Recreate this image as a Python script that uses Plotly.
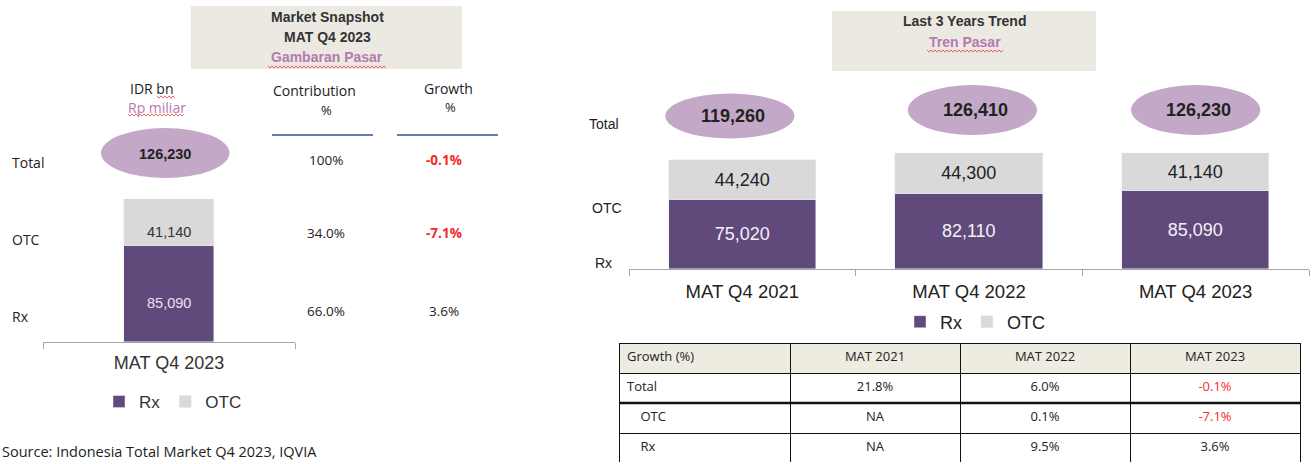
import plotly.graph_objects as go

W, H = 1312, 464


def X(px):
    return px / W


def Y(py):
    return 1 - py / H


# ---------------- data ----------------
cat_left = ["MAT Q4 2023"]
rx_left = [85090]
otc_left = [41140]
snap_rows = ["Total", "OTC", "Rx"]
snap_contribution = ["100%", "34.0%", "66.0%"]
snap_growth = ["-0.1%", "-7.1%", "3.6%"]

cat_right = ["MAT Q4 2021", "MAT Q4 2022", "MAT Q4 2023"]
rx_right = [75020, 82110, 85090]
otc_right = [44240, 44300, 41140]

table_header = ["Growth (%)", "MAT 2021", "MAT 2022", "MAT 2023"]
table_rows = ["Total", "OTC", "Rx"]
growth_2021 = ["21.8%", "NA", "NA"]
growth_2022 = ["6.0%", "0.1%", "9.5%"]
growth_2023 = ["-0.1%", "-7.1%", "3.6%"]

# ---------------- style ----------------
PURPLE = "#604A7B"
GREY = "#D9D9D9"
BUBBLE = "#C4A8C8"
BOX = "#ECE9E2"
PINK = "#B47AAE"
RED = "#F42A2A"
TXT = "#222222"
AX = "#A6A6A6"
SANS = "Liberation Sans, Arial, sans-serif"
OPEN = "Open Sans, DejaVu Sans, sans-serif"

tot_left = [a + b for a, b in zip(rx_left, otc_left)]
tot_right = [a + b for a, b in zip(rx_right, otc_right)]
ymax = max(tot_left + tot_right)

fig = go.Figure()

# left stacked bar
fig.add_trace(go.Bar(x=cat_left, y=rx_left, name="Rx", marker_color=PURPLE, width=0.357,
                     xaxis="x", yaxis="y", legend="legend", hoverinfo="skip"))
fig.add_trace(go.Bar(x=cat_left, y=otc_left, name="OTC", marker_color=GREY, width=0.357,
                     xaxis="x", yaxis="y", legend="legend", hoverinfo="skip"))

# right stacked bars
fig.add_trace(go.Bar(x=cat_right, y=rx_right, name="Rx", marker_color=PURPLE, width=0.65,
                     xaxis="x2", yaxis="y2", legend="legend2",
                     text=[f"{v:,}" for v in rx_right], textposition="inside",
                     insidetextanchor="middle", textangle=0,
                     textfont=dict(family=SANS, size=18, color="#F4F0F8"), hoverinfo="skip"))
fig.add_trace(go.Bar(x=cat_right, y=otc_right, name="OTC", marker_color=GREY, width=0.65,
                     xaxis="x2", yaxis="y2", legend="legend2",
                     text=[f"{v:,}" for v in otc_right], textposition="inside",
                     insidetextanchor="middle", textangle=0,
                     textfont=dict(family=SANS, size=18, color=TXT), hoverinfo="skip"))


# growth table
def col_colors(vals):
    return [RED if str(v).startswith("-") else TXT for v in vals]


first_col = [table_rows[0]] + ["\u00a0\u00a0\u00a0\u00a0" + r for r in table_rows[1:]]
fig.add_trace(go.Table(
    domain=dict(x=[X(619), X(1300)], y=[Y(463), Y(343)]),
    columnwidth=[171, 170, 170, 170],
    header=dict(values=table_header, fill_color="#EEECE1", line=dict(color="#111", width=1),
                align=["left", "center", "center", "center"], height=30,
                font=dict(family=OPEN, size=13, color=TXT)),
    cells=dict(values=[first_col, growth_2021, growth_2022, growth_2023],
               fill_color="white", line=dict(color="#111", width=1),
               align=["left", "center", "center", "center"], height=30,
               font=dict(family=OPEN, size=13,
                         color=[col_colors(first_col), col_colors(growth_2021),
                                col_colors(growth_2022), col_colors(growth_2023)])),
))

shapes = []
annotations = []


def txt(x, y, s, size=14, color=TXT, family=OPEN, xanchor="center", bold=False):
    if bold:
        s = f"<b>{s}</b>"
    annotations.append(dict(x=X(x), y=Y(y), xref="paper", yref="paper", text=s, showarrow=False,
                            xanchor=xanchor, yanchor="middle",
                            font=dict(family=family, size=size, color=color)))


def wavy(x0, x1, y, amp=1.1, step=2.0):
    pts = []
    x = x0
    i = 0
    while x <= x1:
        pts.append((x, y + (amp if i % 2 else -amp)))
        x += step
        i += 1
    path = "M" + " L".join(f"{X(a):.5f},{Y(b):.5f}" for a, b in pts)
    shapes.append(dict(type="path", path=path, xref="paper", yref="paper",
                       line=dict(color="#E84040", width=0.8)))


# ---------- left panel ----------
shapes.append(dict(type="rect", xref="paper", yref="paper", x0=X(191), x1=X(462), y0=Y(69), y1=Y(6),
                   fillcolor=BOX, line=dict(width=0), layer="below"))
txt(327, 17, "Market Snapshot", 14, "#333", SANS, bold=True)
txt(327, 37, "MAT Q4 2023", 14, "#333", SANS, bold=True)
txt(327, 57, "Gambaran Pasar", 14, PINK, SANS, bold=True)
wavy(268, 387, 67)

txt(152, 89, "IDR bn", 14)
wavy(157, 175, 97)
txt(157, 107, "Rp miliar", 14, PINK)
wavy(128, 185, 115)
txt(314, 91, "Contribution", 14)
txt(326, 110, "%", 13)
txt(448, 88, "Growth", 14)
txt(450, 107, "%", 13)
for a, b in [(272, 373), (397, 498)]:
    shapes.append(dict(type="line", xref="paper", yref="paper", x0=X(a), x1=X(b), y0=Y(135), y1=Y(135),
                       line=dict(color="#2F5597", width=1.5)))

label_y = [163, 239, 316]
value_y = [160, 233, 311]
for lab, ly, vy, c, g in zip(snap_rows, label_y, value_y, snap_contribution, snap_growth):
    txt(10, ly, lab, 14, xanchor="left")
    txt(326, vy, c, 13.5)
    neg = g.startswith("-")
    txt(444, vy, g, 13.5, RED if neg else TXT, bold=neg)

# total bubble (left)
shapes.append(dict(type="circle", xref="x", yref="paper", x0=-0.27, x1=0.24, y0=Y(178), y1=Y(128),
                   fillcolor=BUBBLE, line=dict(width=0), layer="below"))
annotations.append(dict(x=cat_left[0], y=Y(154), xref="x", yref="paper", text=f"<b>{tot_left[0]:,}</b>",
                        showarrow=False, xshift=-4, yanchor="middle",
                        font=dict(family=SANS, size=14.5, color=TXT)))
# segment labels (left)
annotations.append(dict(x=cat_left[0], y=rx_left[0] + otc_left[0] / 2, xref="x", yref="y",
                        text=f"{otc_left[0]:,}", showarrow=False, yshift=-10, yanchor="middle",
                        font=dict(family=SANS, size=14.5, color="#333")))
annotations.append(dict(x=cat_left[0], y=rx_left[0] / 2, xref="x", yref="y",
                        text=f"{rx_left[0]:,}", showarrow=False, yshift=-9, yanchor="middle",
                        font=dict(family=SANS, size=14.5, color="#E8E0F0")))

txt(0, 451, "Source: Indonesia Total Market Q4 2023, IQVIA", 14.5, TXT, OPEN, xanchor="left")

# ---------- right panel ----------
shapes.append(dict(type="rect", xref="paper", yref="paper", x0=X(832), x1=X(1096), y0=Y(71), y1=Y(11),
                   fillcolor=BOX, line=dict(width=0), layer="below"))
txt(964, 21, "Last 3 Years Trend", 14, "#333", SANS, bold=True)
txt(965, 42, "Tren Pasar", 14, PINK, SANS, bold=True)
wavy(927, 1004, 51)

txt(587, 124, "Total", 14, TXT, SANS, xanchor="left")
txt(590, 208, "OTC", 14, TXT, SANS, xanchor="left")
txt(593, 263, "Rx", 14, TXT, SANS, xanchor="left")

bubble_y = [116, 110, 110]
bubble_h = [45, 50, 50]
bubble_dx = [-0.055, 0.015, 0.0]
for i, (cat, tot) in enumerate(zip(cat_right, tot_right)):
    cy, hh, dx = bubble_y[i], bubble_h[i], bubble_dx[i]
    shapes.append(dict(type="circle", xref="x2", yref="paper", x0=i + dx - 0.285, x1=i + dx + 0.285,
                       y0=Y(cy + hh / 2), y1=Y(cy - hh / 2), fillcolor=BUBBLE, line=dict(width=0),
                       layer="below"))
    annotations.append(dict(x=i + dx, y=Y(cy), xref="x2", yref="paper", text=f"<b>{tot:,}</b>",
                            showarrow=False, xshift=3, yanchor="middle",
                            font=dict(family=SANS, size=18, color=TXT)))

# heavier rule under the Total row of the table
shapes.append(dict(type="line", xref="paper", yref="paper", x0=X(619), x1=X(1300), y0=Y(403), y1=Y(403),
                   line=dict(color="#111", width=2.5)))

fig.update_layout(
    width=W, height=H, autosize=False,
    margin=dict(l=0, r=0, t=0, b=0),
    paper_bgcolor="white", plot_bgcolor="rgba(0,0,0,0)",
    barmode="stack", bargap=0,
    shapes=shapes, annotations=annotations,
    xaxis=dict(domain=[X(43), X(295)], type="category", range=[-0.5, 0.5], showline=True,
               linecolor=AX, linewidth=1, ticks="outside", tickson="boundaries", ticklen=6,
               tickcolor=AX, showgrid=False, zeroline=False, fixedrange=True,
               tickfont=dict(family=SANS, size=18, color="#333"), ticklabelstandoff=4),
    yaxis=dict(domain=[Y(342), Y(342 - 143 * ymax / tot_left[0])], range=[0, ymax], visible=False,
               fixedrange=True),
    xaxis2=dict(domain=[X(629), X(1309)], type="category", range=[-0.5, 2.5], showline=True,
                linecolor=AX, linewidth=1, ticks="outside", tickson="boundaries", ticklen=6,
                tickcolor=AX, showgrid=False, zeroline=False, fixedrange=True, anchor="y2",
                tickfont=dict(family=SANS, size=18.5, color="#222"), ticklabelstandoff=6),
    yaxis2=dict(domain=[Y(269), Y(269 - 116 * ymax / tot_right[2])], range=[0, ymax], visible=False,
                anchor="x2", fixedrange=True),
    legend=dict(orientation="h", x=X(173), xanchor="center", y=Y(402), yanchor="middle",
                traceorder="normal", font=dict(family=SANS, size=17, color="#333"),
                itemwidth=30, bgcolor="rgba(0,0,0,0)"),
    legend2=dict(orientation="h", x=X(975), xanchor="center", y=Y(322), yanchor="middle",
                 traceorder="normal", font=dict(family=SANS, size=18, color="#222"),
                 itemwidth=30, bgcolor="rgba(0,0,0,0)"),
)

fig.write_html("out.html", config={"displayModeBar": False},
               post_script="document.body.style.margin='0';document.body.style.overflow='hidden';")
